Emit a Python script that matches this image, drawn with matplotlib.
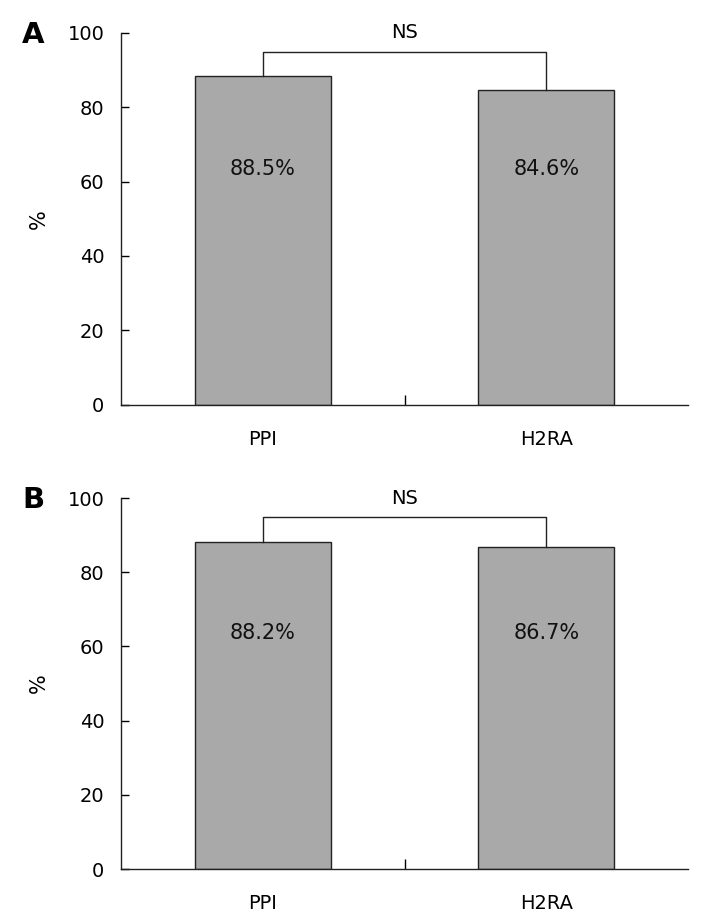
import matplotlib
matplotlib.use("Agg")
import matplotlib.pyplot as plt

groups = ["PPI", "H2RA"]
panel_a = [88.5, 84.6]
panel_b = [88.2, 86.7]
panel_names = ["A", "B"]
bar_labels_a = ["88.5%", "84.6%"]
bar_labels_b = ["88.2%", "86.7%"]
yticks = [0, 20, 40, 60, 80, 100]
sig_text = "NS"
sig_level = 95

plt.rcParams['font.family'] = ['DejaVu Sans']

fig = plt.figure(figsize=(7.09, 9.16), dpi=100)
ax_a = fig.add_axes([0.1707, 0.5584, 0.800, 0.4056])
ax_b = fig.add_axes([0.1707, 0.0513, 0.800, 0.4050])


def draw_panel(ax, vals, labels, name):
    x = list(range(len(groups)))
    ax.bar(x, vals, width=0.48, color="#a9a9a9", edgecolor="#222222", linewidth=1.0)
    for xi, v, lab in zip(x, vals, labels):
        ax.text(xi, 63.5, lab, ha="center", va="center", fontsize=15, color="#111111")
    # significance bracket
    ax.plot([0, 0, 1, 1], [vals[0], sig_level, sig_level, vals[1]],
            color="#222222", linewidth=1.0, clip_on=False)
    ax.text(0.5, 100, sig_text, ha="center", va="center", fontsize=14)

    ax.set_xlim(-0.5, 1.5)
    ax.set_ylim(0, 100)
    ax.set_yticks(yticks)
    ax.set_xticks(x)
    ax.set_xticklabels(groups)
    ax.set_xticks([0.5], minor=True)
    ax.tick_params(axis="x", which="major", length=0, pad=18, labelsize=14)
    ax.tick_params(axis="x", which="minor", direction="in", length=7, width=1.0)
    ax.tick_params(axis="y", direction="in", length=6, width=1.0, pad=12, labelsize=14)
    for s in ["top", "right"]:
        ax.spines[s].set_visible(False)
    for s in ["left", "bottom"]:
        ax.spines[s].set_linewidth(1.0)
        ax.spines[s].set_color("#222222")
    ax.set_ylabel("%", fontsize=15)
    ax.yaxis.set_label_coords(-0.128, 0.5)
    ax.text(-0.5 - 87 / 282, 99.5, name, ha="center", va="center",
            fontsize=21, fontweight="bold", transform=ax.transData)


draw_panel(ax_a, panel_a, bar_labels_a, panel_names[0])
draw_panel(ax_b, panel_b, bar_labels_b, panel_names[1])

fig.savefig("out.png", dpi=100)
